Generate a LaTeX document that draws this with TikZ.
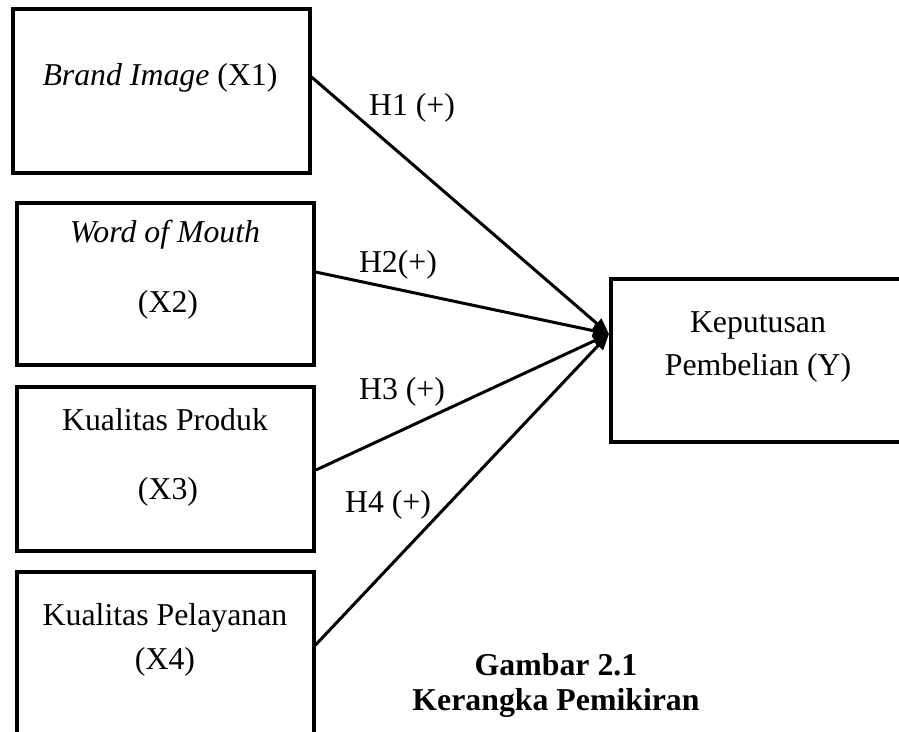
\documentclass[tikz,border=0pt]{standalone}
\usepackage{fontspec}
\setmainfont{Liberation Serif}
\usetikzlibrary{arrows.meta}
\begin{document}
\begin{tikzpicture}[x=0.5pt,y=-0.5pt,
  box/.style={draw=black, line width=2pt, fill=none, inner sep=0pt},
  lbl/.style={inner sep=0pt, font=\fontsize{15.9}{19}\selectfont},
  captxt/.style={inner sep=0pt, font=\fontsize{15.9}{19}\selectfont\bfseries},
  arr/.style={draw=black, line width=1.5pt, -{Triangle[length=8pt,width=6.5pt]}}]
\clip (0,0) rectangle (899,732);
\fill[white] (0,0) rectangle (899,732);
% boxes
\node[box, minimum width=148.25pt, minimum height=81.75pt] (x1) at (161.25,91.25) {};
\node[box, minimum width=148.5pt, minimum height=80.75pt] (x2) at (165,284.25) {};
\node[box, minimum width=148.75pt, minimum height=81.75pt] (x3) at (165.25,469.25) {};
\node[box, minimum width=148.5pt, minimum height=84pt] (x4) at (165,656) {};
\node[box, minimum width=149.5pt, minimum height=81.25pt] (yb) at (760.5,360.25) {};
% texts
\node[lbl] (t1) at (160,78) {\textit{Brand Image} (X1)};
\node[lbl] (t2a) at (165,235) {\textit{Word of Mouth}};
\node[lbl] (t2b) at (168,305) {(X2)};
\node[lbl] (t3a) at (165,420) {Kualitas Produk};
\node[lbl] (t3b) at (168,492) {(X3)};
\node[lbl] (t4a) at (165,618) {Kualitas Pelayanan};
\node[lbl] (t4b) at (165,662) {(X4)};
\node[lbl] (ya) at (758,325) {Keputusan};
\node[lbl] (yb2) at (758,368) {Pembelian (Y)};
% arrows
\coordinate (tip) at (yb.west |- 0,334);
\draw[arr] (x1.east |- 0,77) -- (tip);
\draw[arr] (x2.east |- 0,272) -- (tip);
\draw[arr] (x3.east |- 0,470) -- (tip);
\draw[arr] (x4.east |- 0,645) -- (tip);
% hypothesis labels
\node[lbl] (h1) at (412,108) {H1 (+)};
\node[lbl] (h2) at (398,265) {H2(+)};
\node[lbl] (h3) at (402,392) {H3 (+)};
\node[lbl] (h4) at (388,505) {H4 (+)};
% caption
\node[captxt] (c1) at (556,665) {Gambar 2.1};
\node[captxt] (c2) at (556,703) {Kerangka Pemikiran};
\end{tikzpicture}
\end{document}
